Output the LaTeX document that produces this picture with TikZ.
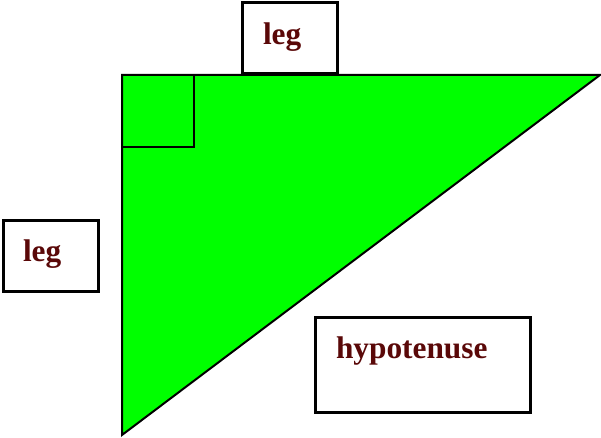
\documentclass[tikz,border=0pt]{standalone}
\usepackage{fontspec}
\setmainfont{Liberation Serif}
\usetikzlibrary{calc}
\definecolor{cgreen}{HTML}{00FF00}
\definecolor{cmaroon}{HTML}{5A0808}
\tikzset{
  every picture/.style={line width=1.5pt},
  labelbox/.style={draw=black, fill=white, line width=1.9pt, minimum width=#1, inner sep=0pt},
  labeltext/.style={font=\bfseries\fontsize{23.5}{28}\selectfont, text=cmaroon, anchor=base west, inner sep=0pt},
}
\begin{document}
\begin{tikzpicture}[x=0.75pt, y=-0.75pt]
  \useasboundingbox (0,0) rectangle (601,438);
  % triangle with the right-angle mark
  \coordinate (A) at (122,75);
  \coordinate (B) at (600,75);
  \coordinate (C) at (122,435);
  \draw[fill=cgreen] (A) -- (B) -- (C) -- cycle;
  \draw (A) rectangle (194,147);
  % label boxes
  \node[labelbox=71.25pt, minimum height=53.25pt, anchor=south west] (legtop) at (241,75) {};
  \node[labelbox=71.25pt, minimum height=53.25pt, anchor=north west] (legleft) at (2,219) {};
  \node[labelbox=161.25pt, minimum height=71.25pt, anchor=north west] (hyp) at (314,316) {};
  \node[labeltext] (legtoptxt) at ($(legtop.north west)+(21,43)$) {leg};
  \node[labeltext] (leglefttxt) at ($(legleft.north west)+(20,43)$) {leg};
  \node[labeltext] (hyptxt) at ($(hyp.north west)+(21,43)$) {hypotenuse};
\end{tikzpicture}
\end{document}
